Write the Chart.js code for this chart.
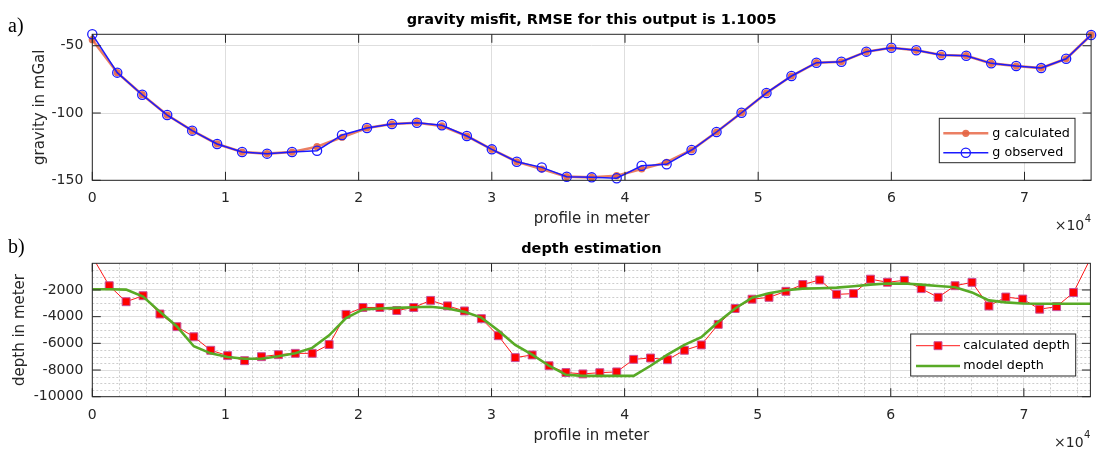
<!DOCTYPE html>
<html>
<head>
<meta charset="utf-8">
<script src="https://cdn.jsdelivr.net/npm/chart.js@4.4.1/dist/chart.umd.min.js"></script>
<style>
  body { margin: 0; background: #fff; }
  #wrap { position: relative; width: 1097px; height: 452px; overflow: hidden; }
  canvas { position: absolute; left: 0; }
  #gravity { top: 0; }
  #depth { top: 232px; }
  .tag { position: absolute; left: 8px; font: 20px "Liberation Serif", "Times New Roman", serif; line-height: 20px; color: #000; }
</style>
</head>
<body>
<div id="wrap">
  <canvas id="gravity" width="1097" height="232"></canvas>
  <canvas id="depth" width="1097" height="220"></canvas>
  <div class="tag" style="top:15px">a)</div>
  <div class="tag" style="top:236px">b)</div>
</div>
<script>
// profile stations (m)
const gStations = [0, 1875, 3750, 5625, 7500, 9375, 11250, 13125, 15000, 16875, 18750, 20625, 22500, 24375,
  26250, 28125, 30000, 31875, 33750, 35625, 37500, 39375, 41250, 43125, 45000, 46875, 48750, 50625, 52500,
  54375, 56250, 58125, 60000, 61875, 63750, 65625, 67500, 69375, 71250, 73125, 75000];

// gravity (mGal)
const gObserved = [-41.5, -70.0, -86.4, -101.5, -113.1, -123.0, -129.0, -130.2, -129.0, -128.0, -116.3, -111.1,
  -108.2, -107.2, -109.1, -117.1, -127.0, -136.2, -140.4, -147.3, -147.8, -148.5, -139.2, -138.1, -127.5,
  -114.1, -99.8, -85.1, -72.5, -62.6, -61.9, -54.4, -51.5, -53.4, -56.9, -57.4, -63.1, -65.1, -66.6, -59.7, -42.0];
const gCalculated = [-45.5, -70.0, -86.4, -101.5, -113.1, -123.0, -129.0, -130.2, -129.0, -125.0, -118.0, -111.1,
  -108.2, -107.2, -109.6, -117.1, -127.0, -136.2, -141.6, -147.3, -147.8, -146.6, -141.6, -136.6, -127.5,
  -114.1, -99.8, -85.1, -72.5, -62.6, -61.9, -54.4, -51.5, -53.4, -56.9, -57.4, -63.1, -65.1, -66.6, -59.7, -42.0];

const dStations = [0, 1271, 2542, 3814, 5085, 6356, 7627, 8898, 10169, 11441, 12712, 13983, 15254, 16525,
  17797, 19068, 20339, 21610, 22881, 24153, 25424, 26695, 27966, 29237, 30508, 31780, 33051, 34322, 35593,
  36864, 38136, 39407, 40678, 41949, 43220, 44492, 45763, 47034, 48305, 49576, 50847, 52119, 53390, 54661,
  55932, 57203, 58475, 59746, 61017, 62288, 63559, 64831, 66102, 67373, 68644, 69915, 71186, 72458, 73729, 75000];

// depth (m)
const dCalculated = [500, -1680, -2880, -2430, -3800, -4750, -5510, -6520, -6920, -7300,
  -7000, -6850, -6750, -6750, -6090, -3830, -3310, -3310, -3540, -3310,
  -2780, -3190, -3570, -4150, -5430, -7070, -6870, -7680, -8190, -8290,
  -8200, -8140, -7200, -7100, -7230, -6520, -6120, -4580, -3390, -2690,
  -2550, -2100, -1590, -1250, -2330, -2270, -1190, -1420, -1280, -1900,
  -2550, -1680, -1430, -3200, -2530, -2680, -3440, -3250, -2190, 350];
const dModel = [-1950, -1950, -1975, -2500, -3640, -4730, -6220, -6750, -7020, -7150,
  -7150, -6970, -6750, -6340, -5400, -4100, -3460, -3390, -3340, -3290,
  -3260, -3390, -3640, -4070, -5030, -6115, -6850, -7680, -8360, -8440,
  -8440, -8440, -8440, -7680, -6850, -6115, -5535, -4400, -3390, -2580,
  -2250, -2025, -1900, -1875, -1825, -1720, -1600, -1520, -1520, -1600,
  -1700, -1800, -2180, -2780, -2930, -3010, -3035, -3035, -3035, -3035];

const xTicks = [0, 10000, 20000, 30000, 40000, 50000, 60000, 70000];
const gTicks = [-150, -100, -50];
const dTicks = [-10000, -8000, -6000, -4000, -2000];

Chart.defaults.font.family = '"DejaVu Sans", sans-serif';
Chart.defaults.color = '#262626';

const axisCol = '#262626';
const gridCol = '#dedede';
const tickFont = { size: 14 };
const labelFont = { size: 15 };
const titleFont = { size: 14.5, weight: 'bold', lineHeight: 1.2 };

function pts(xs, ys) {
  return xs.map((x, i) => ({ x: x, y: ys[i] }));
}

// matlab-like axes: box, inward ticks, dotted minor grid, legend, x exponent
function axesPlugin(cfg) {
  return {
    id: 'axesBox',
    beforeDatasetsDraw(chart) {
      if (!cfg.minor) return;
      const { ctx, chartArea: a, scales: { x, y } } = chart;
      ctx.save();
      ctx.strokeStyle = '#cdcdcd';
      ctx.lineWidth = 1;
      ctx.setLineDash([2, 2]);
      ctx.beginPath();
      for (let v = x.min; v <= x.max; v += cfg.minor.x) {
        if (v % 10000 === 0) continue;
        const px = Math.round(x.getPixelForValue(v)) + 0.5;
        ctx.moveTo(px, a.top);
        ctx.lineTo(px, a.bottom);
      }
      for (let v = y.min; v <= y.max; v += cfg.minor.y) {
        if (v % 2000 === 0) continue;
        const py = Math.round(y.getPixelForValue(v)) + 0.5;
        ctx.moveTo(a.left, py);
        ctx.lineTo(a.right, py);
      }
      ctx.stroke();
      ctx.restore();
    },
    afterDatasetsDraw(chart) {
      const { ctx, chartArea: a, scales: { x, y } } = chart;
      const tl = 8.5;
      ctx.save();
      ctx.strokeStyle = axisCol;
      ctx.lineWidth = 1;
      ctx.beginPath();
      x.ticks.forEach(t => {
        const px = x.getPixelForValue(t.value);
        ctx.moveTo(px, a.bottom); ctx.lineTo(px, a.bottom - tl);
        ctx.moveTo(px, a.top); ctx.lineTo(px, a.top + tl);
      });
      y.ticks.forEach(t => {
        const py = y.getPixelForValue(t.value);
        ctx.moveTo(a.left, py); ctx.lineTo(a.left + tl, py);
        ctx.moveTo(a.right, py); ctx.lineTo(a.right - tl, py);
      });
      ctx.stroke();
      ctx.strokeRect(a.left, a.top, a.right - a.left, a.bottom - a.top);
      ctx.restore();
    },
    afterDraw(chart) {
      const { ctx, chartArea: a } = chart;
      const lg = cfg.legend;
      ctx.save();
      // legend
      ctx.fillStyle = '#fff';
      ctx.fillRect(lg.x, lg.y, lg.w, lg.h);
      ctx.strokeStyle = axisCol;
      ctx.lineWidth = 1;
      ctx.strokeRect(lg.x, lg.y, lg.w, lg.h);
      ctx.font = '12.7px "DejaVu Sans", sans-serif';
      ctx.textBaseline = 'middle';
      chart.data.datasets.forEach((ds, i) => {
        const ry = lg.rows[i];
        ctx.strokeStyle = ds.borderColor;
        ctx.lineWidth = ds.borderWidth;
        ctx.beginPath();
        ctx.moveTo(lg.x0, ry);
        ctx.lineTo(lg.x1, ry);
        ctx.stroke();
        if (ds.pointRadius > 0) {
          ctx.fillStyle = ds.pointBackgroundColor;
          ctx.strokeStyle = ds.pointBorderColor;
          ctx.lineWidth = ds.pointBorderWidth;
          Chart.helpers.drawPoint(ctx, { pointStyle: ds.pointStyle, rotation: 0, radius: ds.pointRadius, borderWidth: ds.pointBorderWidth }, (lg.x0 + lg.x1) / 2, ry);
        }
        ctx.fillStyle = '#000';
        ctx.fillText(ds.label, lg.tx, ry);
      });
      // x10^4
      ctx.fillStyle = axisCol;
      ctx.textBaseline = 'alphabetic';
      ctx.textAlign = 'right';
      ctx.font = '10px "DejaVu Sans", sans-serif';
      ctx.fillText('4', a.right, a.bottom + 41.5);
      const w4 = ctx.measureText('4').width;
      ctx.font = '14px "DejaVu Sans", sans-serif';
      ctx.fillText('\u00d710', a.right - w4 - 0.5, a.bottom + 50);
      ctx.restore();
    }
  };
}

function xScale(h, titlePad) {
  return {
    type: 'linear', min: 0, max: 75000,
    afterBuildTicks: s => { s.ticks = xTicks.map(v => ({ value: v })); },
    afterFit: s => { s.height = h; },
    grid: { color: gridCol, drawTicks: false },
    border: { display: false },
    ticks: { padding: 10, font: tickFont, color: axisCol, callback: v => String(v / 10000) },
    title: { display: true, text: 'profile in meter', font: labelFont, color: axisCol, padding: { top: 0, bottom: titlePad } }
  };
}

// a) gravity misfit
new Chart(document.getElementById('gravity'), {
  type: 'line',
  data: {
    datasets: [{
      label: 'g calculated',
      data: pts(gStations, gCalculated),
      borderColor: 'rgba(232, 104, 72, 0.85)',
      borderWidth: 2.6,
      pointStyle: 'circle',
      pointRadius: 3.6,
      pointBackgroundColor: 'rgba(228, 100, 66, 0.9)',
      pointBorderColor: 'rgba(228, 100, 66, 0.9)',
      pointBorderWidth: 0,
      clip: false,
      order: 1
    }, {
      label: 'g observed',
      data: pts(gStations, gObserved),
      borderColor: '#1a1aff',
      borderWidth: 1.5,
      pointStyle: 'circle',
      pointRadius: 4.6,
      pointBackgroundColor: 'rgba(0, 0, 0, 0)',
      pointBorderColor: '#1a1aff',
      pointBorderWidth: 1.3,
      clip: false,
      order: 0
    }]
  },
  options: {
    responsive: false,
    animation: false,
    layout: { padding: { left: 0, right: 5.3, top: 0, bottom: 0 } },
    plugins: {
      legend: { display: false },
      tooltip: { enabled: false },
      title: {
        display: true, fullSize: false, color: '#000',
        text: 'gravity misfit, RMSE for this output is 1.1005',
        font: titleFont, padding: { top: 11.8, bottom: 5.1 }
      }
    },
    scales: {
      x: xScale(51.7, 3.7),
      y: {
        min: -150, max: -41.5,
        afterBuildTicks: s => { s.ticks = gTicks.map(v => ({ value: v })); },
        afterFit: s => { s.width = 92.3; },
        grid: { color: gridCol, drawTicks: false },
        border: { display: false },
        ticks: { padding: 9, font: tickFont, color: axisCol, callback: v => String(v) },
        title: { display: true, text: 'gravity in mGal', font: labelFont, color: axisCol, padding: { top: 31, bottom: 0 } }
      }
    }
  },
  plugins: [axesPlugin({
    legend: { x: 939.3, y: 118.3, w: 135.7, h: 44.4, rows: [133.3, 152.7], x0: 943.3, x1: 988.3, tx: 992.3 }
  })]
});

// b) depth estimation
new Chart(document.getElementById('depth'), {
  type: 'line',
  data: {
    datasets: [{
      label: 'calculated depth',
      data: pts(dStations, dCalculated),
      borderColor: '#ff1a1a',
      borderWidth: 1,
      pointStyle: 'rect',
      pointRadius: 5.6,
      pointBackgroundColor: '#ff0000',
      pointBorderColor: '#c8509a',
      pointBorderWidth: 1,
      order: 1
    }, {
      label: 'model depth',
      data: pts(dStations, dModel),
      borderColor: '#58aa26',
      borderWidth: 2.6,
      pointRadius: 0,
      order: 0
    }]
  },
  options: {
    responsive: false,
    animation: false,
    layout: { padding: { left: 0, right: 5.3, top: 0, bottom: 0 } },
    plugins: {
      legend: { display: false },
      tooltip: { enabled: false },
      title: {
        display: true, fullSize: false, color: '#000',
        text: 'depth estimation',
        font: titleFont, padding: { top: 8.8, bottom: 5.1 }
      }
    },
    scales: {
      x: xScale(55.3, 7.3),
      y: {
        min: -10000, max: 0,
        afterBuildTicks: s => { s.ticks = dTicks.map(v => ({ value: v })); },
        afterFit: s => { s.width = 92.3; },
        grid: { color: gridCol, drawTicks: false },
        border: { display: false },
        ticks: { padding: 9, font: tickFont, color: axisCol, callback: v => String(v) },
        title: { display: true, text: 'depth in meter', font: labelFont, color: axisCol, padding: { top: 11, bottom: 0 } }
      }
    }
  },
  plugins: [axesPlugin({
    minor: { x: 2000, y: 500 },
    legend: { x: 910.7, y: 102, w: 165, h: 42, rows: [113.7, 134], x0: 916, x1: 960, tx: 963.3 }
  })]
});
</script>
</body>
</html>
